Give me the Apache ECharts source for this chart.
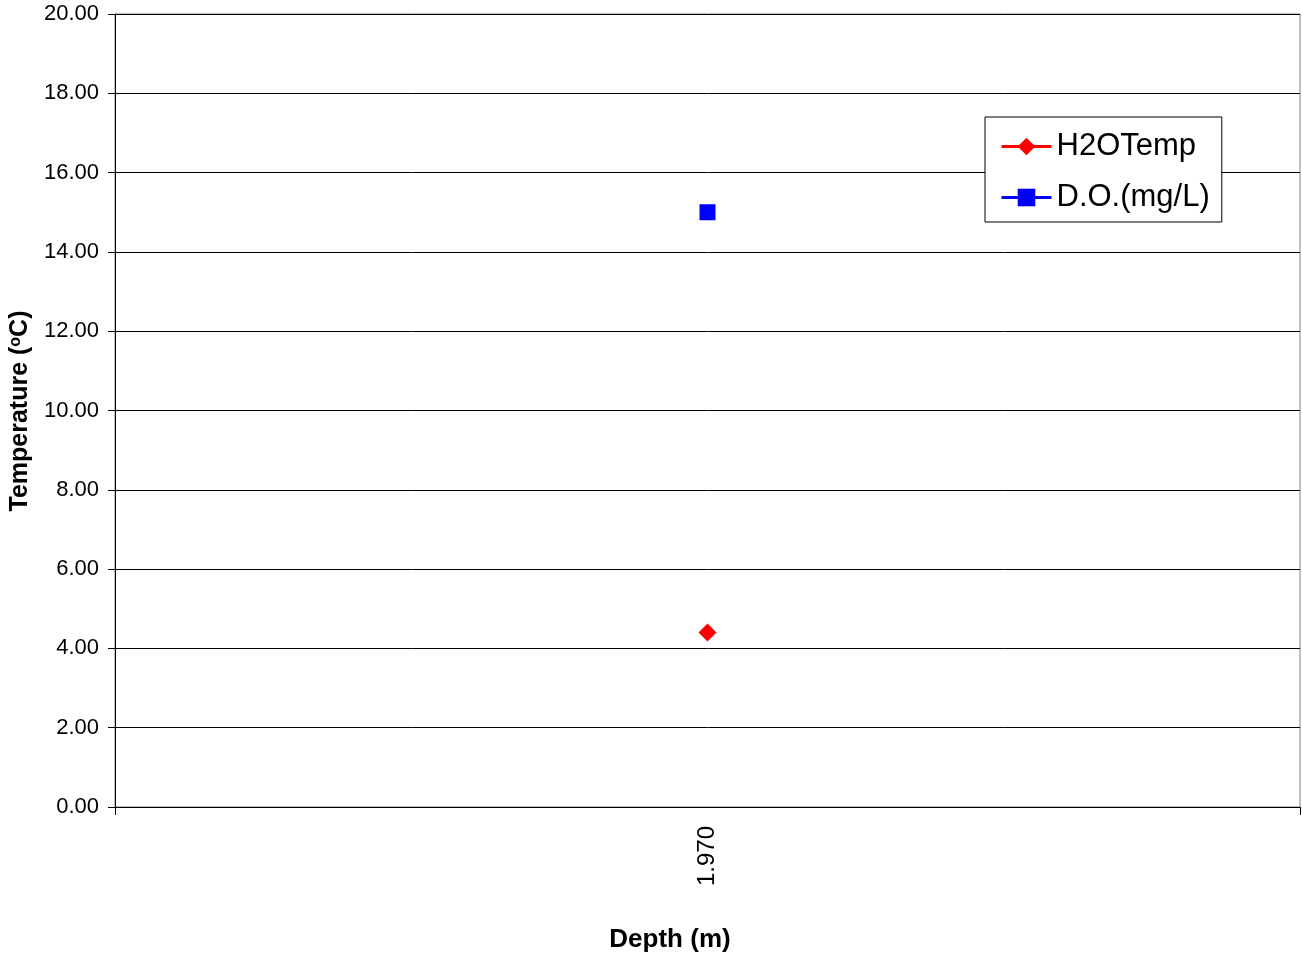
<!DOCTYPE html>
<html>
<head>
<meta charset="utf-8">
<script src="https://cdn.jsdelivr.net/npm/echarts@6/dist/echarts.min.js"></script>
<style>
html,body{margin:0;padding:0;background:#fff;}
#chart{width:1302px;height:956px;}
</style>
</head>
<body>
<div id="chart"></div>
<script>
const categories = ['1.970'];
const h2oTemp = [4.4];
const dissolvedOxygen = [15.0];
const seriesNames = ['H2OTemp', 'D.O.(mg/L)'];
const yTicks = {min: 0, max: 20, interval: 2};

const FONT = '"Liberation Sans", Arial, sans-serif';
const chart = echarts.init(document.getElementById('chart'));
chart.setOption({
  animation: false,
  backgroundColor: '#fff',
  textStyle: {fontFamily: FONT},
  grid: {left: 115, right: 2, top: 14, bottom: 149, show: true, borderColor: '#808080', borderWidth: 1, backgroundColor: 'transparent'},
  legend: {
    left: 985, top: 117,
    orient: 'vertical',
    data: seriesNames,
    borderColor: '#000', borderWidth: 1,
    backgroundColor: '#fff',
    padding: [14, 12, 9, 15],
    itemWidth: 50, itemHeight: 22, itemGap: 20,
    lineStyle: {width: 3},
    textStyle: {fontSize: 31, color: '#000', fontFamily: FONT, padding: [0, 0, 0, 0]}
  },
  xAxis: {
    type: 'category',
    data: categories,
    boundaryGap: true,
    axisLine: {lineStyle: {color: '#000', width: 1}},
    axisTick: {show: true, length: 8, lineStyle: {color: '#000'}},
    axisLabel: {rotate: 90, fontSize: 24, color: '#000', margin: 19, fontFamily: FONT},
    splitLine: {show: false}
  },
  yAxis: {
    type: 'value',
    min: yTicks.min, max: yTicks.max, interval: yTicks.interval,
    axisLine: {show: true, lineStyle: {color: '#000', width: 1}},
    axisTick: {show: true, length: 7, lineStyle: {color: '#000'}},
    axisLabel: {fontSize: 22, color: '#000', margin: 16, fontFamily: FONT, formatter: v => v.toFixed(2)},
    splitLine: {show: true, lineStyle: {color: '#000', width: 1}}
  },
  graphic: [
    {
      type: 'text', x: 670, y: 940,
      style: {text: 'Depth (m)', font: 'bold 26px ' + FONT, fill: '#000', align: 'center', verticalAlign: 'middle'}
    },
    {
      type: 'text', x: 20, y: 411, rotation: Math.PI / 2,
      style: {
        text: 'Temperature ({sup|o}C)',
        font: 'bold 25px ' + FONT, fill: '#000', align: 'center', verticalAlign: 'middle',
        rich: {sup: {font: 'bold 16px ' + FONT, fill: '#000', verticalAlign: 'top'}}
      }
    }
  ],
  series: [
    {
      name: seriesNames[0], type: 'line', data: h2oTemp,
      symbol: 'diamond', symbolSize: 18,
      itemStyle: {color: '#FF0000'}, lineStyle: {color: '#FF0000', width: 3}
    },
    {
      name: seriesNames[1], type: 'line', data: dissolvedOxygen,
      symbol: 'rect', symbolSize: 16,
      itemStyle: {color: '#0000FF'}, lineStyle: {color: '#0000FF', width: 3}
    }
  ]
});
</script>
</body>
</html>
